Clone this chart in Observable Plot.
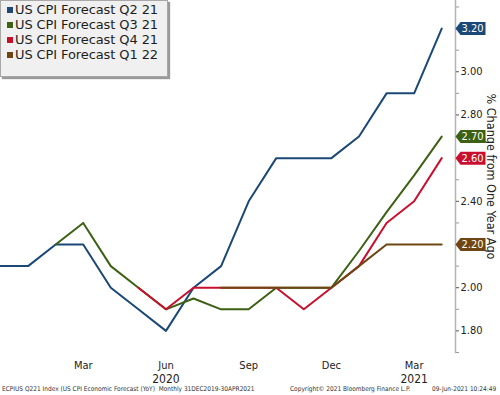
<!DOCTYPE html>
<html><head><meta charset="utf-8">
<script src="https://cdn.jsdelivr.net/npm/d3@7"></script>
<script src="https://cdn.jsdelivr.net/npm/@observablehq/plot@0.6"></script>
<style>
body{margin:0;background:#fff;font-family:"DejaVu Sans Condensed","DejaVu Sans",sans-serif;}
#wrap{position:relative;width:500px;height:395px;overflow:hidden;background:#fff}
#legend{position:absolute;left:0;top:0;width:166px;height:74px;background:#f0f0f0;border:1px solid #a8a8a8;box-shadow:2px 2px 1px #9a9a9a;padding-top:1px}
.li{height:15px;line-height:15px;font-size:13px;font-family:"DejaVu Sans",sans-serif;color:#1e1e1e;white-space:nowrap;padding-left:6px;letter-spacing:-0.1px}
.sw{display:inline-block;width:6px;height:6px;margin-right:2px;vertical-align:1px}
#footer{position:absolute;top:385px;left:0;width:500px;height:10px;font-size:6.5px;color:#333;white-space:nowrap}
#footer span{position:absolute;top:0}
</style></head>
<body>
<div id="wrap">
<div id="chart"></div>
<div id="legend"></div>
<div id="footer"><span style="left:2px">ECPIUS Q221 Index (US CPI Economic Forecast (YoY)&nbsp; Monthly 31DEC2019-30APR2021</span><span style="left:290px">Copyright© 2021 Bloomberg Finance L.P.</span><span style="left:432px">09-Jun-2021 10:24:49</span></div>
</div>
<script>
const months = ["Dec 2019","Jan 2020","Feb 2020","Mar 2020","Apr 2020","May 2020","Jun 2020","Jul 2020","Aug 2020","Sep 2020","Oct 2020","Nov 2020","Dec 2020","Jan 2021","Feb 2021","Mar 2021","Apr 2021"];
const seriesNames = ["US CPI Forecast Q2 21","US CPI Forecast Q3 21","US CPI Forecast Q4 21","US CPI Forecast Q1 22"];
const seriesColors = ["#1b4876","#3d6114","#c8102e","#6f4613"];
const q221 = [2.1,2.1,2.2,2.2,2.0,1.9,1.8,2.0,2.1,2.4,2.6,2.6,2.6,2.7,2.9,2.9,3.2];
const q321 = [null,null,2.2,2.3,2.1,2.0,1.9,1.95,1.9,1.9,2.0,2.0,2.0,2.17,2.35,2.52,2.7];
const q421 = [null,null,null,null,null,2.0,1.9,2.0,2.0,2.0,2.0,1.9,2.0,2.1,2.3,2.4,2.6];
const q122 = [null,null,null,null,null,null,null,null,2.0,2.0,2.0,2.0,2.0,2.1,2.2,2.2,2.2];
const xTickIdx = [3,6,9,12,15];
const xTickLabels = ["Mar","Jun","Sep","Dec","Mar"];
const yearTickIdx = [6,15];
const yearLabels = ["2020","2021"];
const yMajor = [1.8,2.0,2.2,2.4,2.6,2.8,3.0];
const yMinor = [1.7,1.9,2.1,2.3,2.5,2.7,2.9,3.1,3.2,3.3];
const yDomain = [1.7,3.33];
const xDomain = [0,16.5];
const yLabel = "% Change from One Year Ago";

const allSeries = [q221,q321,q421,q122];
const table = [];
allSeries.forEach((vals,s)=>vals.forEach((v,i)=>{ if(v!=null) table.push({i, month:months[i], value:v, series:seriesNames[s]}); }));
const lasts = allSeries.map((vals,s)=>({series:seriesNames[s], value:vals[vals.length-1]}));

const tag = {draw(ctx){ ctx.moveTo(0,0); ctx.lineTo(5,-6.5); ctx.lineTo(30,-6.5); ctx.lineTo(30,6.5); ctx.lineTo(5,6.5); ctx.closePath(); }};

const chart = Plot.plot({
  width:500, height:385,
  marginLeft:0, marginRight:45, marginTop:0, marginBottom:33,
  style:{fontFamily:'"DejaVu Sans Condensed","DejaVu Sans",sans-serif', background:"#fff", color:"#222"},
  x:{domain:xDomain, axis:null},
  y:{domain:yDomain, axis:null},
  color:{domain:seriesNames, range:seriesColors},
  marks:[
    Plot.frame({anchor:"right", stroke:"#b4b4b4", strokeWidth:1.5}),
    Plot.axisY({anchor:"right", ticks:yMinor, tickFormat:()=>"", tickSize:3, stroke:"#999", label:null}),
    Plot.axisY({anchor:"right", ticks:yMajor, tickFormat:d=>d.toFixed(2), tickSize:3, tickPadding:2, fontSize:11, label:null, stroke:"#555"}),
    Plot.axisX({ticks:xTickIdx, tickFormat:(d,k)=>xTickLabels[k], tickSize:0, tickPadding:9, fontSize:11, label:null}),
    Plot.axisX({ticks:yearTickIdx, tickFormat:(d,k)=>yearLabels[k], tickSize:0, tickPadding:22, fontSize:12, label:null}),
    Plot.text([yLabel], {frameAnchor:"right", dx:35, rotate:90, textAnchor:"middle", fontSize:12.5, fill:"#222", text:d=>d}),
    Plot.lineY(table, {x:"i", y:"value", z:"series", stroke:"series", strokeWidth:2}),
    Plot.dot(lasts, {y:"value", frameAnchor:"right", fill:"series", symbol:tag, r:5}),
    Plot.text(lasts, {y:"value", frameAnchor:"right", dx:6, textAnchor:"start", fill:"white", fontSize:11, text:d=>d.value.toFixed(2)})
  ]
});
document.getElementById("chart").appendChild(chart);

const lg = document.getElementById("legend");
seriesNames.forEach((n,k)=>{
  const d = document.createElement("div"); d.className="li";
  d.innerHTML = `<span class="sw" style="background:${seriesColors[k]}"></span>${n}`;
  lg.appendChild(d);
});
</script>
</body></html>
